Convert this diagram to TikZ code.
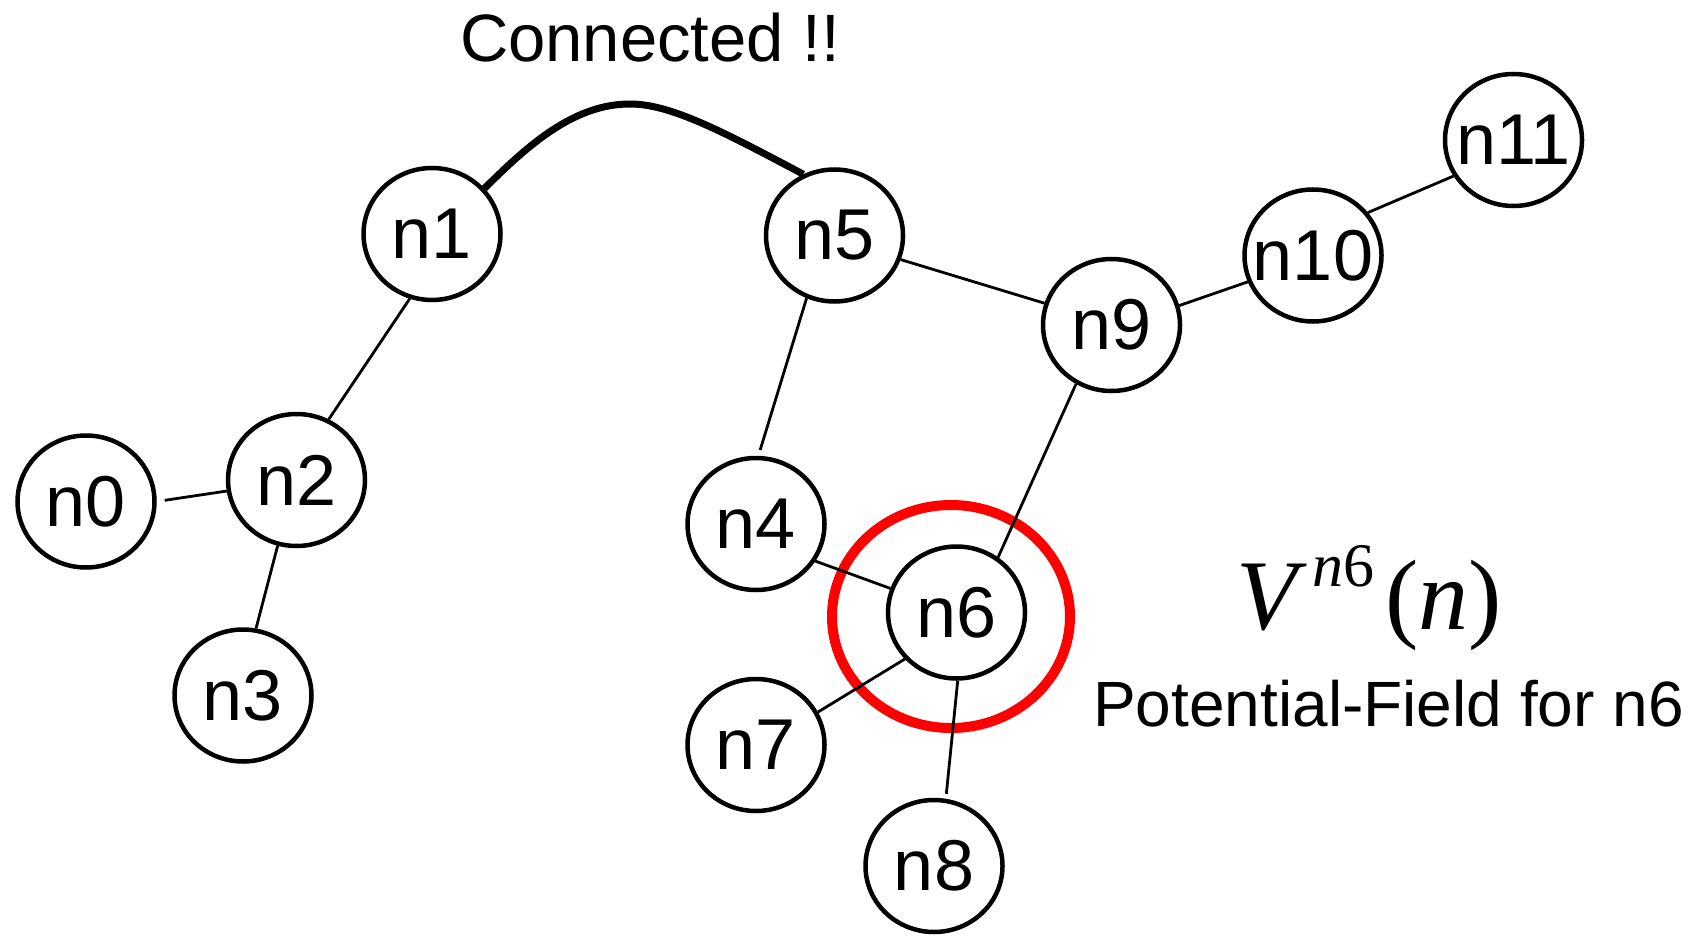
\documentclass[tikz,border=0pt]{standalone}
\usepackage{fontspec}
\setmainfont{Liberation Sans}
\newfontfamily\timesfam{Liberation Serif}
\usetikzlibrary{shapes.geometric}

\newcommand\lbl[1]{\makebox[0pt]{#1}}

\begin{document}
\begin{tikzpicture}[x=1pt,y=-1pt,
  vertex/.style={ellipse, draw, line width=4.5pt, minimum width=137pt,
    minimum height=132pt, inner sep=0pt, font=\fontsize{72}{72}\selectfont},
  edge/.style={line width=2.8pt},
  link/.style={line width=7pt},
  field/.style={draw=red, line width=10pt},
  caption/.style={inner sep=0pt, anchor=base}]

% canvas
\fill[white] (0,0) rectangle (1699,936);

% potential field around n6
\draw[field] (951,616.5) ellipse [x radius=119, y radius=111.5];

% graph nodes
\node[vertex] (n0)  at (86,501.5)   {\lbl{n0}};
\node[vertex] (n1)  at (432,234)    {\lbl{n1}};
\node[vertex] (n2)  at (296.5,480)  {\lbl{n2}};
\node[vertex] (n3)  at (243,695.5)  {\lbl{n3}};
\node[vertex] (n4)  at (756,524)    {\lbl{n4}};
\node[vertex] (n5)  at (834.5,235.5){\lbl{n5}};
\node[vertex] (n6)  at (956.5,612.5){\lbl{n6}};
\node[vertex] (n7)  at (756,745)    {\lbl{n7}};
\node[vertex] (n8)  at (934,866)    {\lbl{n8}};
\node[vertex] (n9)  at (1111.5,325) {\lbl{n9}};
\node[vertex] (n10) at (1313,255.5) {\lbl{n10}};
\node[vertex] (n11) at (1513.5,140) {\lbl{n11}};

% tree edges
\draw[edge, shorten <=8pt] (n0.0) -- (n2.189);
\draw[edge] (n1.251) -- (n2.62);
\draw[edge] (n2.254) -- (n3.79);
\draw[edge, shorten >=6pt] (n5.246) -- (n4.88);
\draw[edge] (n5.340) -- (n9.162);
\draw[edge] (n9.16) -- (n10.202);
\draw[edge] (n10.38) -- (n11.211);
\draw[edge] (n9.239) -- (n6.53);
\draw[edge] (n4.328) -- (n6.160);
\draw[edge] (n6.222) -- (n7.28);
\draw[edge, shorten >=5pt] (n6.271) -- (n8.80);

% link joining the two trees
\coordinate (apex) at (630,104);
\draw[link] (n1.41) .. controls (530,143) and (575,104) .. (apex)
  .. controls (670,104) and (720,130) .. (n5.117);

% captions
\node[caption, font=\fontsize{67}{67}\selectfont] (conn) at (650,62) {Connected !!};
\node[caption, font=\timesfam\fontsize{100}{100}\selectfont] (pot) at (1369,629)
  {\itshape V\kern15pt\raisebox{43pt}{\fontsize{62}{62}\selectfont\itshape n\upshape 6}\kern11pt\upshape(\itshape n\upshape)};
\node[caption, font=\fontsize{64}{64}\selectfont] (potcap) at (1388.5,726) {Potential-Field for n6};

\end{tikzpicture}
\end{document}
